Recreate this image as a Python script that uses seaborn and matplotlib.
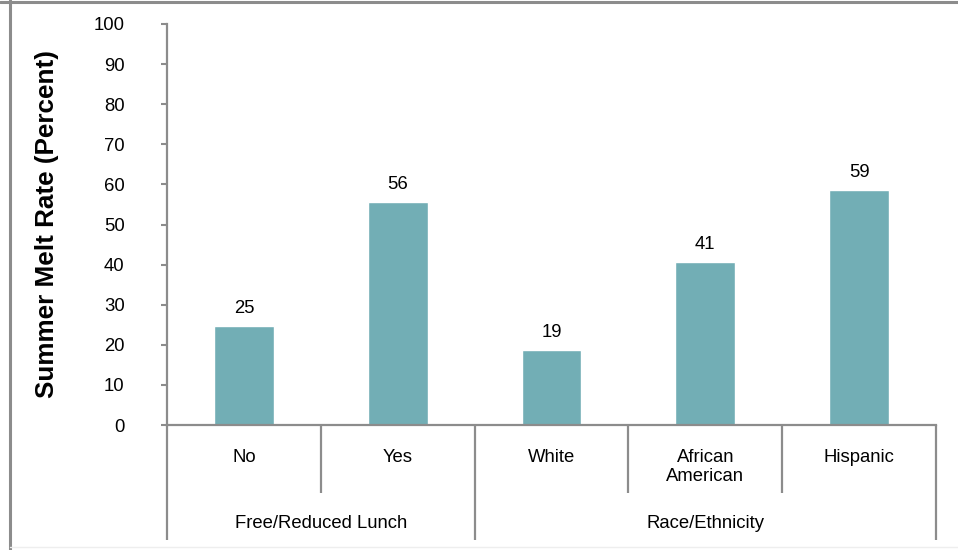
import matplotlib
matplotlib.use("Agg")
import matplotlib.pyplot as plt
import seaborn as sns
import pandas as pd
from matplotlib.lines import Line2D

categories = ["No", "Yes", "White", "African\nAmerican", "Hispanic"]
values = [24.7, 55.6, 18.8, 40.6, 58.7]
groups = ["Free/Reduced Lunch", "Race/Ethnicity"]
group_sizes = [2, 3]
y_ticks = list(range(0, 101, 10))

sns.set_theme(style="white")
plt.rcParams["font.family"] = ["Liberation Sans", "DejaVu Sans"]
plt.rcParams["text.color"] = "black"
plt.rcParams["xtick.color"] = "black"
plt.rcParams["ytick.color"] = "black"
plt.rcParams["axes.labelcolor"] = "black"

BAR = "#72AEB5"
GRAY = "#8C8C8C"
FS = 13.3

fig = plt.figure(figsize=(9.58, 5.5), dpi=100)
ax = fig.add_axes([167 / 958, 125 / 550, (936 - 167) / 958, (425 - 24) / 550])

df = pd.DataFrame({"cat": categories, "val": values})
sns.barplot(data=df, x="cat", y="val", color=BAR, width=0.39, saturation=1, ax=ax)

ax.set_xlim(-0.5, len(categories) - 0.5)
ax.set_ylim(0, 100)
ax.set_yticks(y_ticks)
ax.set_yticklabels([str(t) for t in y_ticks], fontsize=FS)
ax.tick_params(axis="y", length=4.5, width=1.5, color=GRAY, pad=26, left=True, labelcolor="black")
ax.tick_params(axis="x", length=0, pad=17, labelsize=FS, labelcolor="black")
ax.set_xlabel("")
ax.set_ylabel("Summer Melt Rate (Percent)", fontsize=18.8, fontweight="bold", labelpad=25, color="black")

for s in ["top", "right"]:
    ax.spines[s].set_visible(False)
for s in ["left", "bottom"]:
    ax.spines[s].set_color(GRAY)
    ax.spines[s].set_linewidth(1.6)

# value labels
for i, v in enumerate(values):
    ax.annotate(f"{v:.0f}", (i, v), xytext=(0, 6.5), textcoords="offset points",
                ha="center", va="bottom", fontsize=FS, color="black")

# multi-level axis separators
trans = ax.get_xaxis_transform()
y_short = -(493 - 425) / (425 - 24)
y_long = -(540 - 425) / (425 - 24)
bounds = [-0.5]
acc = -0.5
for g in group_sizes:
    acc += g
    bounds.append(acc)
for k in range(len(categories) + 1):
    x = k - 0.5
    yb = y_long if x in bounds else y_short
    ax.plot([x, x], [0, yb], transform=trans, color=GRAY, lw=1.6, clip_on=False,
            solid_capstyle="butt")

# group labels
start = -0.5
y_grp = -(523 - 425) / (425 - 24)
for g, n in zip(groups, group_sizes):
    ax.text(start + n / 2, y_grp, g, transform=trans, ha="center", va="center", fontsize=FS, color="black")
    start += n

# outer frame
fig.add_artist(Line2D([9.5 / 958, 9.5 / 958], [0, 1], transform=fig.transFigure, color=GRAY, lw=2.2))
fig.add_artist(Line2D([0, 1], [1 - 1.5 / 550, 1 - 1.5 / 550], transform=fig.transFigure, color=GRAY, lw=2.2))
fig.add_artist(Line2D([9.5 / 958, 1], [3 / 550, 3 / 550], transform=fig.transFigure, color="#EEEEEE", lw=1))

fig.savefig("out.png", dpi=100)
